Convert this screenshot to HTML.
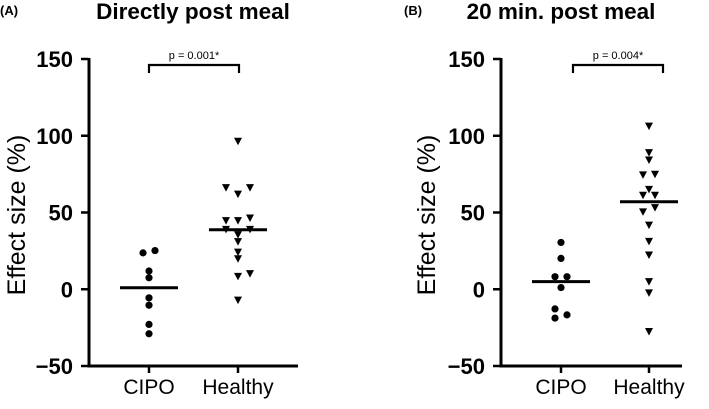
<!DOCTYPE html>
<html><head><meta charset="utf-8"><style>
html,body{margin:0;padding:0;background:#fff;}
svg{display:block;font-family:"Liberation Sans",Arial,sans-serif;}
</style></head><body>
<svg id="chart" width="709" height="409" viewBox="0 0 709 409" xmlns="http://www.w3.org/2000/svg"></svg>
<script>
const yTicks = [150, 100, 50, 0, -50];
const categories = ["CIPO", "Healthy"];
const panelTitles = ["Directly post meal", "20 min. post meal"];
const panelLetters = ["(A)", "(B)"];
const pValues = ["p = 0.001*", "p = 0.004*"];
const aCipo = [23.7, 25.2, 11.9, 7.5, -5.6, -10.4, -22.9, -29];
const aCipoOff = [-6, 6, 0, 0, 0, 0, 0, 0];
const aHealthy = [96.4, 66.2, 66.2, 62, 44.7, 44.7, 46.4, 39, 39, 35.6, 31, 24.2, 19.9, 8.4, 10.2, -7.1];
const aHealthyOff = [0, -12, 12, 0, -12, 0, 12, -12, 12, 0, 0, 0, 0, 0, 12, 0];
const aMedians = [1, 38.8];
const bCipo = [30.5, 20.1, 8.2, 8.2, 1.1, -12.8, -18.8, -16.7];
const bCipoOff = [0, 0, -6, 6, 0, -6, -6, 6];
const bHealthy = [106.3, 89, 84.2, 74.5, 74.9, 65.1, 61.2, 61.2, 50.4, 53.2, 41.8, 31.2, 22.3, 5, -2.4, -27.5];
const bHealthyOff = [0, 0, 0, -6, 6, 0, -6, 6, -6, 6, 0, 0, 0, 0, 0, 0];
const bMedians = [5, 57];

const NS = "http://www.w3.org/2000/svg";
const svg = document.getElementById("chart");
function mk(tag, attrs, parent) {
  const e = document.createElementNS(NS, tag);
  for (const k in attrs) e.setAttribute(k, attrs[k]);
  (parent || svg).appendChild(e);
  return e;
}
const panels = [
  {ax: 89, xEnd: 298, cx: [149, 238], br: [149, 239], cipo: aCipo, cOff: aCipoOff, h: aHealthy, hOff: aHealthyOff, med: aMedians, titleX: 193, letterX: 0, ylabX: 25},
  {ax: 501, xEnd: 682, cx: [561, 649], br: [573, 663], cipo: bCipo, cOff: bCipoOff, h: bHealthy, hOff: bHealthyOff, med: bMedians, titleX: 561, letterX: 404, ylabX: 435}
];
const yTop = 59, yBottom = 366;
function y(v) { return yBottom - (v + 50) / 200 * (yBottom - yTop); }

panels.forEach((p, i) => {
  const g = mk("g", {});
  
  
  let t = mk("text", {x: p.letterX, y: 15, "font-size": 13, "font-weight": "bold"}, g);
  t.textContent = panelLetters[i];
  
  
  t = mk("text", {x: p.titleX, y: 19, "font-size": 22.5, "font-weight": "bold", "text-anchor": "middle"}, g);
  t.textContent = panelTitles[i];
  
  
  t = mk("text", {transform: `translate(${p.ylabX},215) rotate(-90)`, "font-size": 25, "text-anchor": "middle"}, g);
  t.textContent = i === 0 ? "Effect size (%)" : "Effect size  (%)";
  
  
  let a = mk("line", {x1: p.ax, y1: yTop - 1, x2: p.ax, y2: yBottom + 1.5, stroke: "#000", "stroke-width": 3}, g);
  
  
  a = mk("line", {x1: p.ax - 1.5, y1: yBottom, x2: p.xEnd, y2: yBottom, stroke: "#000", "stroke-width": 3}, g);
  
  
  yTicks.forEach(v => {
    mk("line", {x1: p.ax - 8, y1: y(v), x2: p.ax, y2: y(v), stroke: "#000", "stroke-width": 2.5}, g);
    const tl = mk("text", {x: p.ax - 16, y: y(v) + 8, "font-size": 22, "font-weight": "bold", "text-anchor": "end"}, g);
    tl.textContent = v < 0 ? "\u2212" + (-v) : String(v);
    
    
  });
  categories.forEach((c, j) => {
    mk("line", {x1: p.cx[j], y1: yBottom, x2: p.cx[j], y2: yBottom + 7, stroke: "#000", "stroke-width": 2.5}, g);
    const cl = mk("text", {x: p.cx[j], y: 394, "font-size": 21, "text-anchor": "middle"}, g);
    cl.textContent = c;
    
    
  });
  const b = mk("path", {d: `M${p.br[0]},73 V65 H${p.br[1]} V73`, fill: "none", stroke: "#000", "stroke-width": 2.2}, g);
  
  
  t = mk("text", {x: (p.br[0] + p.br[1]) / 2, y: 59, "font-size": 11, "text-anchor": "middle"}, g);
  t.textContent = pValues[i];
  
  
  p.cipo.forEach((v, k) => {
    const c = mk("circle", {cx: p.cx[0] + p.cOff[k], cy: y(v), r: 3.6, fill: "#000"}, g);
    
    
  });
  p.h.forEach((v, k) => {
    const x = p.cx[1] + p.hOff[k], yy = y(v);
    const tr = mk("path", {d: `M${x-4},${yy-3.5} L${x+4},${yy-3.5} L${x},${yy+4} Z`, fill: "#000"}, g);
    
    
  });
  p.med.forEach((v, j) => {
    const m = mk("line", {x1: p.cx[j] - 29, y1: y(v), x2: p.cx[j] + 29, y2: y(v), stroke: "#000", "stroke-width": 3}, g);
    
    
  });
});
</script>
</body></html>
